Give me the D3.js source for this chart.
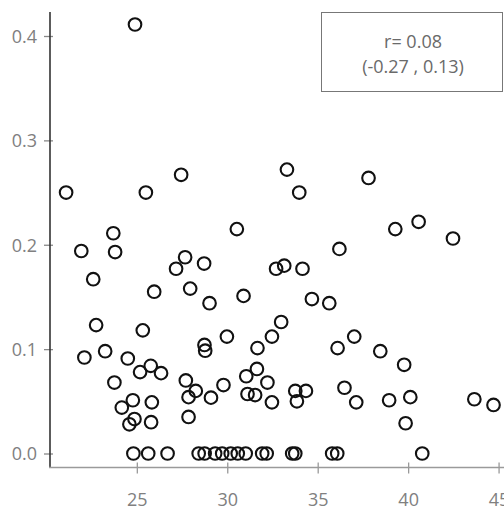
<!DOCTYPE html>
<html>
<head>
<meta charset="utf-8">
<script src="https://cdn.jsdelivr.net/npm/d3@7"></script>
<style>
  html, body { margin: 0; padding: 0; background: #fff; }
  svg { display: block; }
  text { font-family: "Open Sans", "Noto Sans", sans-serif; }
</style>
</head>
<body>
<svg id="chart" width="504" height="508"></svg>
<script>
// Observations: x value and y value of each point
const xValues = [
  24.9, 21.09, 25.5, 27.45, 33.3, 33.98, 37.81, 30.53, 23.7, 21.93,
  23.8, 22.59, 25.96, 36.2, 27.67, 27.17, 28.72, 32.7, 33.15, 34.16,
  27.95, 29.02, 30.9, 34.68, 35.64, 39.29, 40.58, 42.48, 32.98, 22.75,
  25.33, 29.98, 32.47, 37.02, 28.74, 28.78, 31.67, 36.1, 38.46, 39.78,
  22.1, 23.25, 24.5, 25.77, 25.18, 26.34, 23.76, 27.71, 28.26, 27.86,
  29.1, 29.79, 31.05, 31.64, 32.22, 31.12, 31.54, 32.47, 33.76, 34.35,
  33.85, 27.86, 36.48, 37.13, 38.95, 40.12, 39.86, 43.66, 44.72, 24.78,
  24.17, 25.83, 24.87, 24.59, 25.79,
  24.81, 25.63, 26.70, 28.42, 28.75, 29.33, 29.72, 30.19, 30.58, 31.02,
  31.93, 32.18, 33.59, 33.76, 35.80, 36.08, 40.78
];
const yValues = [
  0.411, 0.250, 0.250, 0.267, 0.272, 0.250, 0.264, 0.215, 0.211, 0.194,
  0.193, 0.167, 0.155, 0.196, 0.188, 0.177, 0.182, 0.177, 0.180, 0.177,
  0.158, 0.144, 0.151, 0.148, 0.144, 0.215, 0.222, 0.206, 0.126, 0.123,
  0.118, 0.112, 0.112, 0.112, 0.104, 0.0985, 0.101, 0.101, 0.098, 0.085,
  0.092, 0.098, 0.091, 0.084, 0.078, 0.077, 0.068, 0.070, 0.060, 0.054,
  0.0535, 0.0656, 0.074, 0.081, 0.068, 0.057, 0.056, 0.049, 0.060, 0.060,
  0.050, 0.035, 0.063, 0.049, 0.051, 0.054, 0.029, 0.052, 0.0465, 0.051,
  0.044, 0.049, 0.033, 0.028, 0.030,
  0, 0, 0, 0, 0, 0, 0, 0, 0, 0,
  0, 0, 0, 0, 0, 0, 0
];
const xTicks = [25, 30, 35, 40, 45];
const yTicks = [0.0, 0.1, 0.2, 0.3, 0.4];
const corrLines = ["r= 0.08", "(-0.27 , 0.13)"];

const points = xValues.map((x, i) => ({ x, y: yValues[i] }));

const svg = d3.select("#chart");
const plotLeft = 50, plotRight = 504, plotTop = 12, plotBottom = 467.5;
const labelSize = 18;

const x = d3.scaleLinear().domain([20.2, 45.3]).range([plotLeft, plotRight]);
const y = d3.scaleLinear().domain([0, 0.4]).range([453.5, 36]);

// y axis
const yAxis = svg.append("g").attr("transform", `translate(${plotLeft},0)`)
  .call(d3.axisLeft(y).tickValues(yTicks).tickFormat(d3.format(".1f")).tickSize(6));
yAxis.select(".domain").remove();
yAxis.selectAll(".tick line").attr("x1", -6).attr("x2", 3).attr("stroke", "#888").attr("stroke-width", 1.3);
yAxis.selectAll(".tick text")
  .attr("fill", "#808080").attr("font-size", labelSize)
  .attr("x", -13).attr("dy", "0.36em");
svg.append("line").attr("x1", plotLeft).attr("x2", plotLeft).attr("y1", plotTop).attr("y2", plotBottom)
  .attr("stroke", "#333").attr("stroke-width", 1.6);

// x axis
const xAxis = svg.append("g").attr("transform", `translate(0,${plotBottom})`)
  .call(d3.axisBottom(x).tickValues(xTicks).tickFormat(d3.format("d")).tickSize(6));
xAxis.select(".domain").remove();
xAxis.selectAll(".tick line").attr("y1", -5).attr("y2", 6).attr("stroke", "#999").attr("stroke-width", 1.3);
xAxis.selectAll(".tick text")
  .attr("fill", "#808080").attr("font-size", labelSize)
  .attr("y", 38).attr("dy", 0);
svg.append("line").attr("x1", plotLeft - 1).attr("x2", plotRight).attr("y1", plotBottom).attr("y2", plotBottom)
  .attr("stroke", "#9a9a9a").attr("stroke-width", 1.6);

// points
svg.append("g").selectAll("circle").data(points).join("circle")
  .attr("cx", d => x(d.x))
  .attr("cy", d => y(d.y))
  .attr("r", 6.3)
  .attr("fill", "none")
  .attr("stroke", "#111")
  .attr("stroke-width", 2.1);

// correlation box
const box = svg.append("g");
box.append("rect").attr("x", 321.5).attr("y", 12.5).attr("width", 181).attr("height", 79)
  .attr("fill", "#fff").attr("stroke", "#777").attr("stroke-width", 1);
box.selectAll("text").data(corrLines).join("text")
  .attr("x", 413).attr("y", (d, i) => 48 + i * 25)
  .attr("text-anchor", "middle")
  .attr("font-size", labelSize)
  .attr("fill", "#6a6a6a")
  .text(d => d);
</script>
</body>
</html>
